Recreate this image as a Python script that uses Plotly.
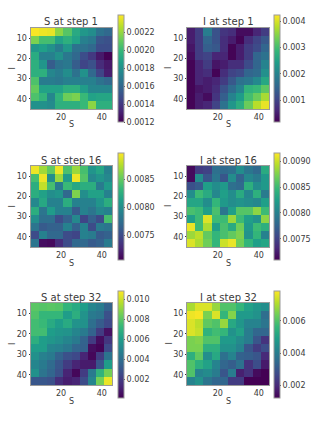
import plotly.graph_objects as go

W, H = 317, 423
S_COORD = [7, 11, 15, 19, 23, 27, 31, 35, 39, 43]
I_COORD = [7, 11, 15, 19, 23, 27, 31, 35, 39, 43]

S_STEP1 = [
 [.00238,.00236,.00235,.00218,.00207,.00192,.00183,.00178,.00165,.00160],
 [.00215,.00203,.00203,.00188,.00195,.00188,.00172,.00168,.00152,.00150],
 [.00183,.00187,.00180,.00170,.00183,.00165,.00165,.00160,.00148,.00148],
 [.00193,.00172,.00172,.00180,.00168,.00160,.00148,.00140,.00128,.00120],
 [.00195,.00182,.00155,.00165,.00168,.00155,.00145,.00150,.00135,.00128],
 [.00195,.00195,.00175,.00170,.00178,.00165,.00180,.00160,.00145,.00130],
 [.00205,.00170,.00170,.00168,.00172,.00172,.00172,.00172,.00165,.00160],
 [.00210,.00188,.00188,.00188,.00195,.00195,.00185,.00175,.00175,.00175],
 [.00205,.00198,.00175,.00197,.00212,.00215,.00200,.00188,.00190,.00190],
 [.00180,.00180,.00177,.00195,.00195,.00195,.00200,.00218,.00195,.00195],
]
I_STEP1 = [
 [.0005,.0009,.0019,.0012,.0008,.0007,.0003,.0003,.0006,.0009],
 [.0005,.0009,.0015,.0012,.0007,.0005,.0002,.0007,.0010,.0013],
 [.0004,.0009,.0014,.0013,.0007,.0002,.0005,.0009,.0011,.0015],
 [.0003,.0009,.0010,.0006,.0006,.0002,.0005,.0009,.0015,.0017],
 [.0002,.0006,.0009,.0004,.0005,.0007,.0007,.0011,.0015,.0020],
 [.0002,.0006,.0007,.0002,.0007,.0010,.0011,.0015,.0016,.0022],
 [.0002,.0006,.0005,.0006,.0009,.0013,.0017,.0018,.0021,.0026],
 [.0002,.0004,.0005,.0007,.0012,.0016,.0020,.0028,.0029,.0032],
 [.0002,.0005,.0003,.0008,.0014,.0020,.0024,.0030,.0033,.0037],
 [.0002,.0005,.0006,.0010,.0017,.0023,.0027,.0033,.0038,.0041],
]
S_STEP16 = [
 [.00893,.00870,.00850,.00893,.00842,.00868,.00840,.00805,.00818,.00790],
 [.00840,.00893,.00800,.00868,.00810,.00893,.00845,.00795,.00805,.00795],
 [.00825,.00880,.00840,.00785,.00835,.00820,.00825,.00825,.00785,.00810],
 [.00825,.00815,.00800,.00805,.00770,.00860,.00800,.00815,.00815,.00790],
 [.00795,.00820,.00790,.00790,.00825,.00790,.00790,.00790,.00805,.00825],
 [.00825,.00780,.00810,.00790,.00790,.00760,.00790,.00780,.00795,.00790],
 [.00800,.00775,.00775,.00750,.00765,.00795,.00745,.00765,.00750,.00840],
 [.00780,.00760,.00765,.00765,.00790,.00765,.00790,.00750,.00785,.00780],
 [.00750,.00790,.00770,.00770,.00750,.00745,.00790,.00785,.00760,.00765],
 [.00780,.00712,.00710,.00730,.00750,.00770,.00770,.00760,.00765,.00785],
]
I_STEP16 = [
 [.00715,.00745,.00750,.00785,.00780,.00785,.00810,.00790,.00780,.00835],
 [.00715,.00810,.00765,.00790,.00765,.00810,.00775,.00805,.00795,.00820],
 [.00760,.00770,.00825,.00810,.00820,.00785,.00780,.00840,.00810,.00820],
 [.00810,.00850,.00835,.00805,.00825,.00810,.00835,.00805,.00840,.00795],
 [.00830,.00830,.00810,.00845,.00820,.00810,.00815,.00810,.00805,.00825],
 [.00855,.00850,.00825,.00855,.00790,.00825,.00860,.00860,.00880,.00850],
 [.00825,.00850,.00905,.00850,.00850,.00885,.00850,.00825,.00815,.00880],
 [.00910,.00850,.00890,.00825,.00855,.00835,.00870,.00820,.00850,.00840],
 [.00885,.00895,.00865,.00845,.00855,.00865,.00875,.00815,.00845,.00800],
 [.00905,.00890,.00870,.00845,.00900,.00910,.00870,.00845,.00825,.00830],
]
S_STEP32 = [
 [.0080,.0079,.0080,.0079,.0071,.0066,.0060,.0050,.0046,.0035],
 [.0078,.0072,.0072,.0072,.0060,.0068,.0056,.0045,.0042,.0028],
 [.0075,.0073,.0066,.0060,.0066,.0056,.0055,.0040,.0032,.0025],
 [.0075,.0075,.0060,.0057,.0056,.0050,.0045,.0035,.0020,.0006],
 [.0068,.0060,.0057,.0054,.0050,.0045,.0035,.0020,.0005,.0018],
 [.0060,.0060,.0050,.0048,.0044,.0036,.0034,.0005,.0002,.0025],
 [.0055,.0048,.0045,.0035,.0028,.0025,.0012,.0003,.0020,.0042],
 [.0050,.0045,.0038,.0030,.0020,.0012,.0009,.0009,.0030,.0060],
 [.0055,.0042,.0036,.0028,.0012,.0003,.0020,.0045,.0070,.0085],
 [.0030,.0030,.0028,.0015,.0010,.0012,.0026,.0050,.0085,.0105],
]
I_STEP32 = [
 [.0070,.0075,.0075,.0068,.0060,.0060,.0056,.0050,.0047,.0045],
 [.0077,.0078,.0065,.0075,.0056,.0066,.0048,.0048,.0046,.0036],
 [.0075,.0072,.0062,.0060,.0068,.0052,.0047,.0042,.0042,.0038],
 [.0075,.0073,.0055,.0058,.0056,.0046,.0050,.0040,.0034,.0034],
 [.0065,.0066,.0060,.0060,.0048,.0048,.0044,.0040,.0030,.0022],
 [.0065,.0065,.0054,.0054,.0046,.0046,.0042,.0030,.0024,.0028],
 [.0054,.0062,.0045,.0052,.0037,.0042,.0033,.0032,.0030,.0020],
 [.0060,.0054,.0050,.0042,.0034,.0032,.0037,.0022,.0028,.0017],
 [.0060,.0042,.0044,.0040,.0030,.0040,.0018,.0022,.0014,.0012],
 [.0042,.0046,.0038,.0034,.0034,.0024,.0024,.0012,.0012,.0012],
]

TITLES = ["S at step 1", "I at step 1", "S at step 16", "I at step 16", "S at step 32", "I at step 32"]
GRIDS = [S_STEP1, I_STEP1, S_STEP16, I_STEP16, S_STEP32, I_STEP32]
ZMIN = [.0012, .00017, .00705, .00709, .00011, .00122]
ZMAX = [.00239, .00424, .00898, .00916, .0108, .00786]
CB_TICKS = [
    [.0012, .0014, .0016, .0018, .0020, .0022],
    [.001, .002, .003, .004],
    [.0075, .0080, .0085],
    [.0075, .0080, .0085, .0090],
    [.002, .004, .006, .008, .010],
    [.002, .004, .006],
]
CB_FMT = [".4f", ".3f", ".4f", ".4f", ".3f", ".3f"]
X_TICKS = [20, 40]
Y_TICKS = [10, 20, 30, 40]

COLS = [(30.5, 112), (187, 269)]
ROWS = [(28, 109), (166, 247), (303, 385)]
CB_ROWS = [(15, 122), (153, 260), (291, 398)]
CB_X = [118, 274]
CB_W = 5.5

FONT = "DejaVu Sans"
TXT = "#3a3a3a"
FRAME = "#9a9a9a"

fig = go.Figure()
layout = dict(
    width=W, height=H, autosize=False,
    margin=dict(l=0, r=0, t=0, b=0),
    paper_bgcolor="white", plot_bgcolor="white",
    font=dict(family=FONT, size=8, color=TXT),
    annotations=[],
)


def note(text, px, py, size, **kw):
    layout["annotations"].append(dict(
        text=text, showarrow=False, xref="paper", yref="paper",
        x=px / W, y=1 - py / H, xanchor="center", yanchor="middle",
        font=dict(family=FONT, size=size, color=TXT), **kw,
    ))


for i, (title, z) in enumerate(zip(TITLES, GRIDS)):
    c, r = i % 2, i // 2
    x0, x1 = COLS[c]
    y0, y1 = ROWS[r]
    cy0, cy1 = CB_ROWS[r]
    n = "" if i == 0 else str(i + 1)
    fig.add_trace(go.Heatmap(
        x=S_COORD, y=I_COORD, z=z, xaxis="x" + n, yaxis="y" + n,
        colorscale="Viridis", zmin=ZMIN[i], zmax=ZMAX[i],
        colorbar=dict(
            x=CB_X[c] / W, xanchor="left", xpad=0, ypad=0,
            y=1 - cy1 / H, yanchor="bottom", len=(cy1 - cy0) / H, lenmode="fraction",
            thickness=CB_W, thicknessmode="pixels",
            outlinecolor=FRAME, outlinewidth=1,
            tickvals=CB_TICKS[i], tickformat=CB_FMT[i],
            ticks="outside", ticklen=1, tickwidth=0.6, tickcolor=TXT,
            tickfont=dict(family=FONT, size=8, color=TXT),
        ),
    ))
    axis = dict(showgrid=False, zeroline=False, showline=True, mirror=True,
                linecolor=FRAME, linewidth=1, ticks="", tickwidth=0.6, tickcolor=TXT)
    layout["xaxis" + n] = dict(axis, domain=[x0 / W, x1 / W], anchor="y" + n,
                               range=[5, 45], tickvals=X_TICKS)
    layout["yaxis" + n] = dict(axis, domain=[1 - y1 / H, 1 - y0 / H], anchor="x" + n,
                               range=[45, 5], tickvals=Y_TICKS, ticks="outside", ticklen=1)
    note(title, (x0 + x1) / 2, y0 - 6, 10)
    note("S", (x0 + x1) / 2, y1 + 16, 8)
    note("I", x0 - 18.5, (y0 + y1) / 2, 8, textangle=-90)
fig.update_layout(**layout)
fig.write_html("out.html", config={"displayModeBar": False},
               post_script="document.body.style.margin='0';document.body.style.overflow='hidden';")
